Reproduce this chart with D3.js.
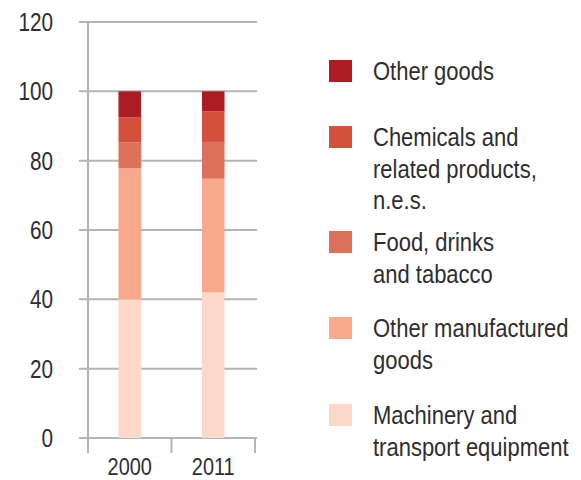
<!DOCTYPE html>
<html>
<head>
<meta charset="utf-8">
<script src="https://cdn.jsdelivr.net/npm/d3@7"></script>
<style>
  html, body { margin: 0; padding: 0; background: #fff; }
  svg text { font-family: "Liberation Sans", Arial, sans-serif; fill: #2e2e2e; }
</style>
</head>
<body>
<svg id="chart" width="581" height="480"></svg>
<script>
// ---- data ----
const years = ["2000", "2011"];
const seriesNames = ["Machinery and transport equipment", "Other manufactured goods", "Food, drinks and tabacco", "Chemicals and related products, n.e.s.", "Other goods"];
const machinery = [40.0, 42.0];
const otherManufactured = [37.8, 32.8];
const foodDrinks = [7.5, 10.6];
const chemicals = [7.2, 8.8];
const otherGoods = [7.5, 5.8];
const yTicks = [0, 20, 40, 60, 80, 100, 120];
const seriesColors = ["#fcd8c9", "#f8a88b", "#dc7059", "#d5503a", "#ae1c23"];
// legend (top to bottom), lines as shown
const legendOrder = [4, 3, 2, 1, 0];
const legendLines = [
  ["Other goods"],
  ["Chemicals and", "related products,", "n.e.s."],
  ["Food, drinks", "and tabacco"],
  ["Other manufactured", "goods"],
  ["Machinery and", "transport equipment"]
];

const seriesValues = [machinery, otherManufactured, foodDrinks, chemicals, otherGoods];
const table = years.map((y, i) => {
  const row = { year: y };
  seriesNames.forEach((s, k) => row[s] = seriesValues[k][i]);
  return row;
});
const stacked = d3.stack().keys(seriesNames)(table);

const svg = d3.select("#chart");
const x = d3.scaleBand().domain(years).range([88, 255]).padding(0);
const y = d3.scaleLinear().domain([0, 120]).range([438, 22]);
const barW = x.bandwidth() * 0.27;
const NARROW = 0.83;

// condensed text helper (horizontal squeeze, like a narrow face)
function ntext(sel, tx, ty, str, size, anchor) {
  const g = sel.append("g").attr("transform", `translate(${tx},${ty}) scale(${NARROW},1)`);
  g.append("text").attr("font-size", size).attr("text-anchor", anchor || "start").text(str);
  return g;
}

// gridlines
svg.append("g").selectAll("line").data(yTicks).join("line")
  .attr("x1", 79).attr("x2", 257)
  .attr("y1", d => y(d)).attr("y2", d => y(d))
  .attr("stroke", "#b4b4b4").attr("stroke-width", 2);

// vertical axis line
svg.append("line").attr("x1", 88).attr("x2", 88).attr("y1", y(120)).attr("y2", 453)
  .attr("stroke", "#b4b4b4").attr("stroke-width", 2);

// bottom ticks
const xTickPos = [x.range()[0], x(years[1]), x.range()[1]];
svg.append("g").selectAll("line").data(xTickPos).join("line")
  .attr("x1", d => d).attr("x2", d => d).attr("y1", y(0)).attr("y2", 453)
  .attr("stroke", "#b4b4b4").attr("stroke-width", 2);

// y tick labels
const yl = svg.append("g");
yTicks.forEach(t => ntext(yl, 53, y(t) + 9, String(t), 25, "end"));

// x labels
const xl = svg.append("g");
years.forEach(yr => ntext(xl, x(yr) + x.bandwidth() / 2, 475, yr, 24, "middle"));

// bars
svg.append("g").selectAll("g").data(stacked).join("g")
  .attr("fill", (d, i) => seriesColors[i])
  .selectAll("rect").data(d => d).join("rect")
  .attr("x", d => x(d.data.year) + (x.bandwidth() - barW) / 2)
  .attr("width", barW)
  .attr("y", d => y(d[1]))
  .attr("height", d => y(d[0]) - y(d[1]));

// legend
const legendTops = [60, 126, 231, 317, 404];
const lineH = 31.5;
const leg = svg.append("g").selectAll("g").data(legendOrder).join("g")
  .attr("transform", (d, i) => `translate(329,${legendTops[i]})`);
leg.append("rect").attr("width", 23).attr("height", 22)
  .attr("fill", d => seriesColors[d]);
leg.each(function (d, i) {
  const g = d3.select(this);
  legendLines[i].forEach((t, j) => ntext(g, 44, 20 + j * lineH, t, 26.5));
});
</script>
</body>
</html>
